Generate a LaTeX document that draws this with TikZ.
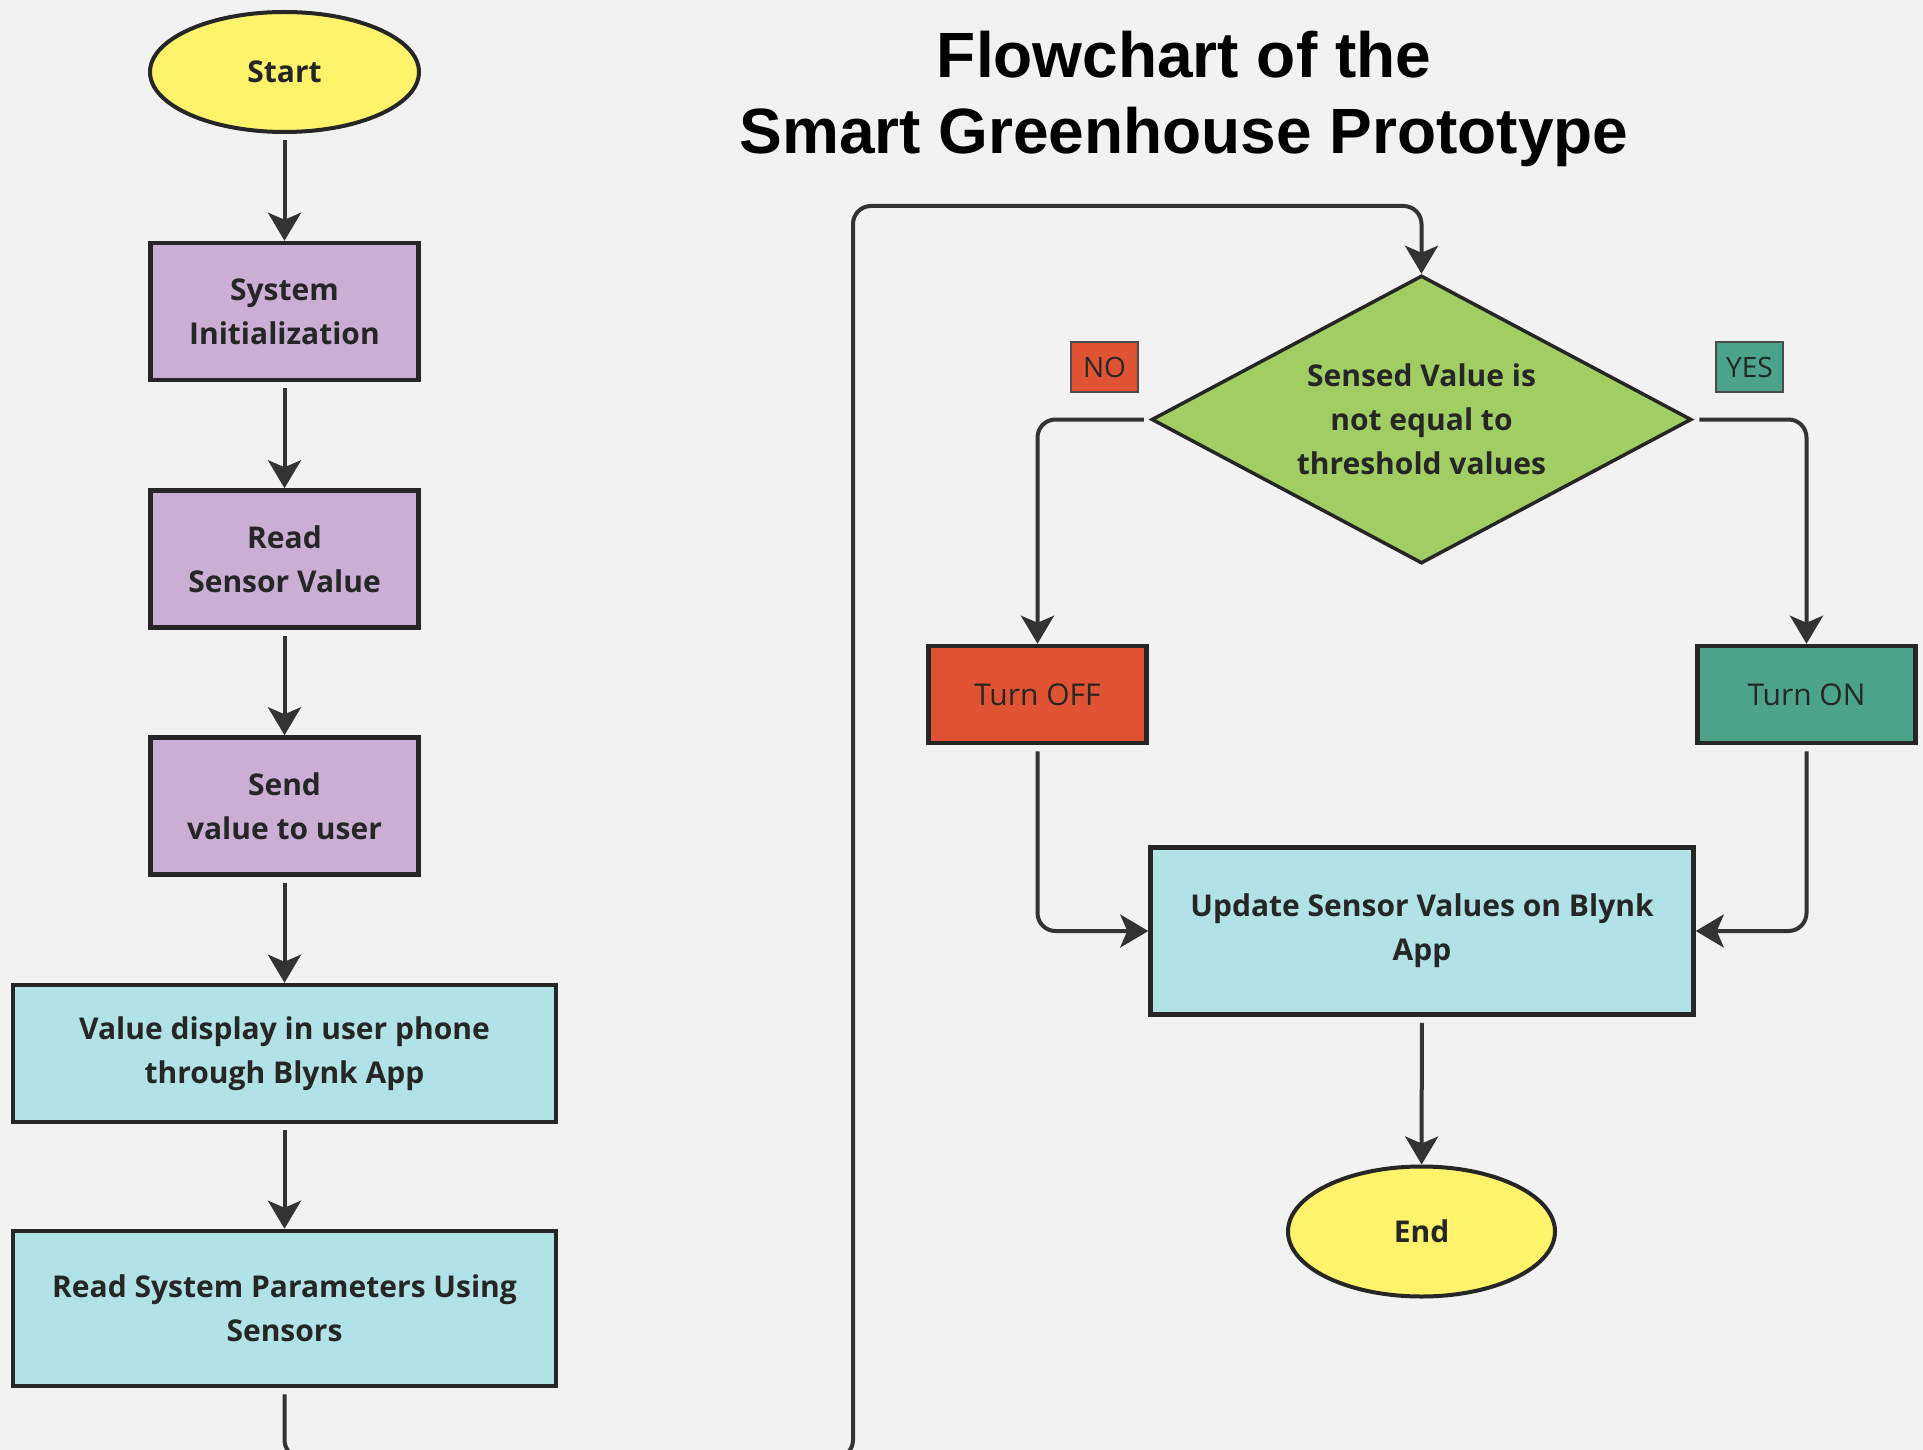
\documentclass[tikz,border=0pt]{standalone}
\usepackage{fontspec}
\setmainfont{Open Sans}
\newfontfamily\titlefont{Liberation Sans}
\usepackage{tikz}
\usetikzlibrary{shapes, shapes.geometric, arrows.meta, positioning, calc}
\usepackage{xcolor}
\definecolor{termyellow}{HTML}{FFF36B}
\definecolor{procpurple}{HTML}{CAAED4}
\definecolor{iocyan}{HTML}{B0E2E6}
\definecolor{decgreen}{HTML}{A1CE62}
\definecolor{offred}{HTML}{DF5333}
\definecolor{onteal}{HTML}{4BA488}
\definecolor{linegray}{HTML}{333333}
\definecolor{bggray}{HTML}{F2F2F2}

\begin{document}
\begin{tikzpicture}[x=1pt, y=-1pt,
    boxfont/.style={font=\fontsize{30}{44}\selectfont\bfseries, text=black!85, align=center},
    terminal/.style={boxfont, draw=black!85, line width=4pt, fill=termyellow, ellipse, inner sep=0pt},
    process/.style={boxfont, draw=black!85, line width=4.5pt, fill=procpurple, rectangle,
                    minimum width=268pt, minimum height=137pt},
    iobox/.style={boxfont, draw=black!85, line width=4.5pt, fill=iocyan, rectangle, minimum width=543pt},
    switchbox/.style={font=\fontsize{30}{44}\selectfont, text=black!85, draw=black!85, line width=4.5pt,
                      rectangle, minimum width=218pt, minimum height=97pt},
    answer/.style={font=\fontsize{28}{30}\selectfont, text=black!85, draw=black!70, line width=2pt,
                   rectangle, minimum width=67pt, minimum height=50pt, inner sep=0pt},
    flowarrow/.style={draw=linegray, line width=4pt, rounded corners=18pt,
                      -{Stealth[length=28pt, width=33pt, inset=7pt]}}]
  \fill[bggray] (0,0) rectangle (1923,1450);
  \useasboundingbox (0,0) rectangle (1923,1450);

  % title
  \node[font=\titlefont\fontsize{64}{76}\selectfont\bfseries, align=center] (title) at (1184,99)
        {Flowchart of the\\Smart Greenhouse Prototype};

  % left column
  \node[terminal, minimum width=269pt, minimum height=120pt] (start) at (284.5,72) {Start};
  \node[process] (init) at (284.5,311.5) {System\\Initialization};
  \node[process] (read) at (284.5,559) {Read\\Sensor Value};
  \node[process] (send) at (284.5,806) {Send\\value to user};
  \node[iobox, minimum height=137pt] (display) at (284.5,1053.5) {Value display in user phone\\through Blynk App};
  \node[iobox, minimum height=155pt] (params) at (284.5,1308.5) {Read System Parameters Using\\Sensors};

  % right column
  \node[boxfont, draw=black!85, line width=3.5pt, fill=decgreen, diamond, aspect=1.875, inner sep=0pt,
        minimum width=540pt, minimum height=288pt] (check) at (1421.5,419.5)
        {Sensed Value is\\not equal to\\threshold values};
  \node[answer, fill=offred] (no) at (1104.5,367) {NO};
  \node[answer, fill=onteal] (yes) at (1749.5,367) {YES};
  \node[switchbox, fill=offred] (off) at (1037.5,694.5) {Turn OFF};
  \node[switchbox, fill=onteal] (on) at (1806.5,694.5) {Turn ON};
  \node[iobox, minimum height=167pt] (update) at (1422,931) {Update Sensor Values on Blynk\\App};
  \node[terminal, minimum width=267pt, minimum height=130pt] (finish) at (1421.5,1231.5) {End};

  \coordinate (loopbot) at (853,1458);
  \coordinate (looptop) at (853,206);

  % connectors
  \draw[flowarrow, shorten <=6pt] (start) -- (init);
  \draw[flowarrow, shorten <=6pt] (init) -- (read);
  \draw[flowarrow, shorten <=6pt] (read) -- (send);
  \draw[flowarrow, shorten <=6pt] (send) -- (display);
  \draw[flowarrow, shorten <=6pt] (display) -- (params);
  \draw[flowarrow, shorten <=6pt] (params.south) |- (loopbot) -- (looptop) -| (check.north);
  \draw[flowarrow, shorten <=6pt] (check.west) -| (off.north);
  \draw[flowarrow, shorten <=6pt] (check.east) -| (on.north);
  \draw[flowarrow, shorten <=6pt] (off.south) |- (update.west);
  \draw[flowarrow, shorten <=6pt] (on.south) |- (update.east);
  \draw[flowarrow, shorten <=6pt] (update) -- (finish);
\end{tikzpicture}
\end{document}
